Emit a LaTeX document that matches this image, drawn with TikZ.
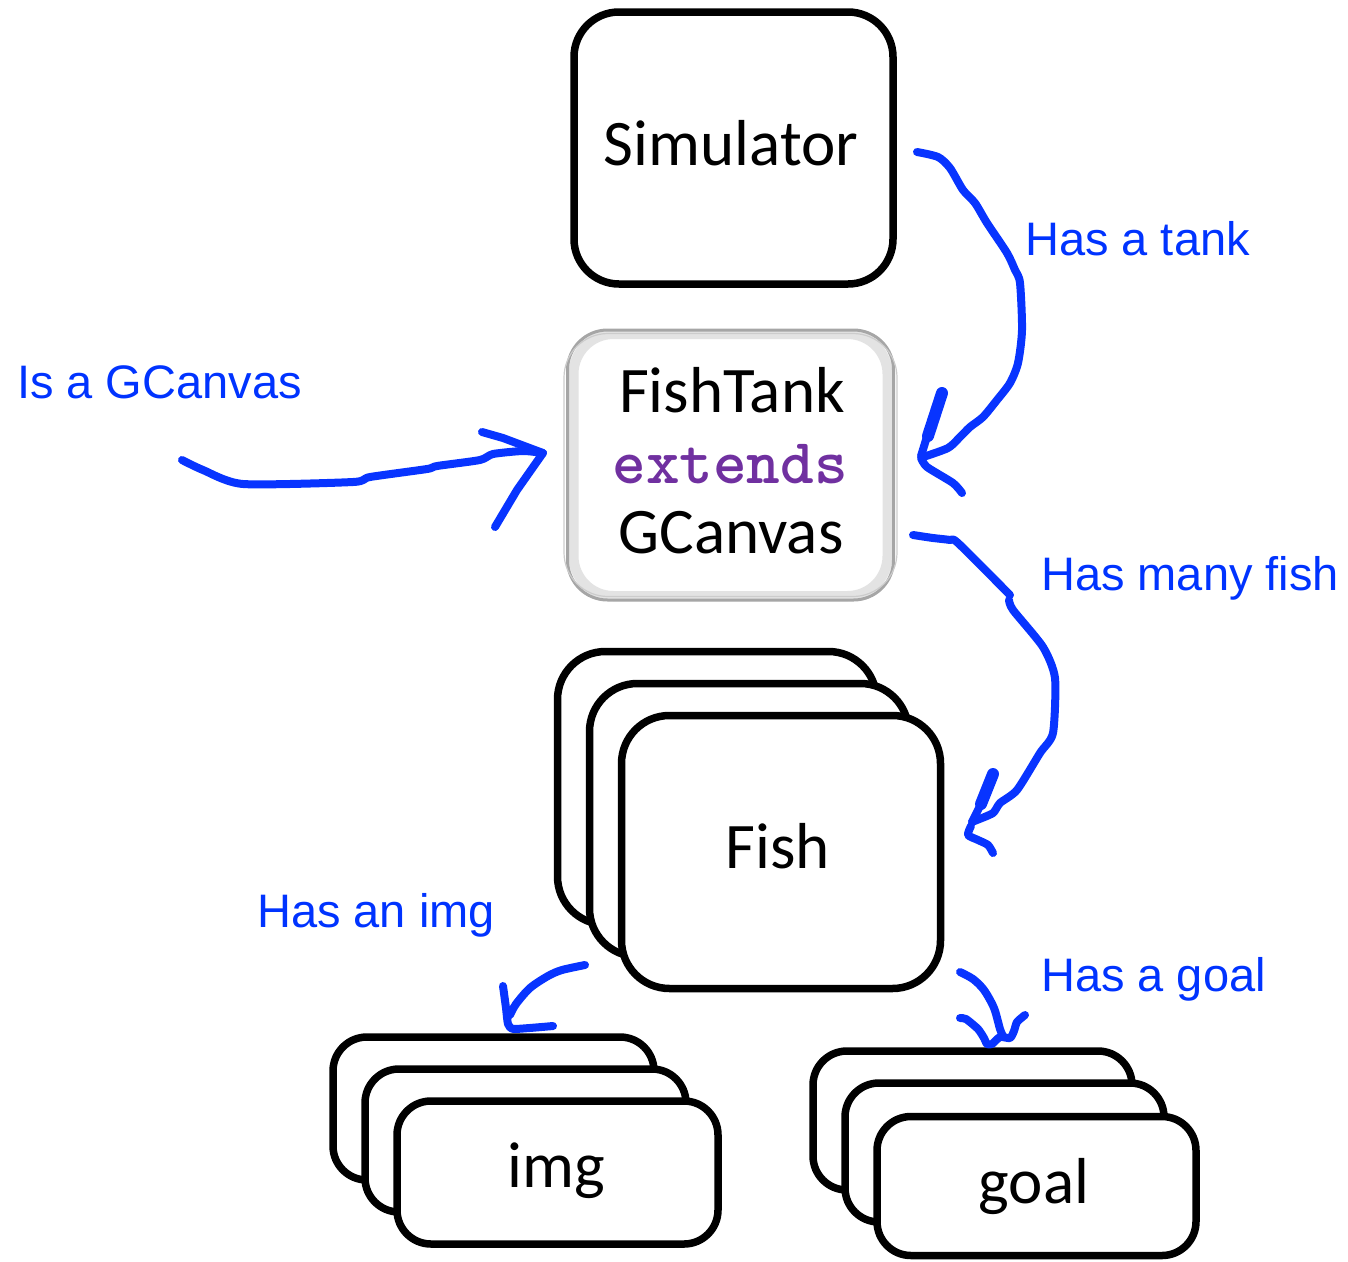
\documentclass[tikz,border=0pt]{standalone}
\usepackage{fontspec}
\newfontfamily\calfont{Carlito}
\newfontfamily\arialfont{Liberation Sans}
\definecolor{penblue}{RGB}{8,52,255}
\definecolor{lblue}{RGB}{0,51,255}
\definecolor{kwpurple}{RGB}{112,48,160}
\begin{document}
\begin{tikzpicture}[x=1pt,y=-1pt,
  box/.style={draw=black, line width=7.5pt, rounded corners=#1, fill=white, inner sep=0pt},
  boxtext/.style={font={\calfont\fontsize{65pt}{70pt}\selectfont}, anchor=base, inner sep=0pt},
  codetext/.style={font={\ttfamily\fontsize{64pt}{68pt}\selectfont}, text=kwpurple, anchor=base, inner sep=0pt},
  lbl/.style={font={\arialfont\fontsize{47pt}{50pt}\selectfont}, text=lblue, anchor=base west, inner sep=0pt},
  pen/.style={draw=penblue, line width=8pt, line cap=round, line join=round},
  penthick/.style={draw=penblue, line width=12pt, line cap=round, line join=round}]
\useasboundingbox (0,0) rectangle (1348,1261);

% Simulator
\node[box=45pt, minimum width=319pt, minimum height=272pt] (sim) at (733.5,148) {};
\node[boxtext] (simtxt) at (731,165) {Simulator};

% FishTank
\node[draw=gray!22, line width=10pt, rounded corners=40pt, fill=white, inner sep=0pt,
      minimum width=314pt, minimum height=262pt] (ft) at (730.5,465) {};
\draw[gray!70, line width=3pt, rounded corners=40pt] ([shift={(-1,1)}]ft.north west) rectangle ([shift={(1,-1)}]ft.south east);
\draw[gray!40, line width=1.2pt, rounded corners=44pt] ([shift={(-4.5,4.5)}]ft.north west) rectangle ([shift={(4.5,-4.5)}]ft.south east);
\node[boxtext] (fttxt1) at (732,412) {FishTank};
\node[codetext] (fttxt2) at (730,483) {\textbf{extends}};
\node[boxtext] (fttxt3) at (731,553) {GCanvas};

% Fish stack
\node[box=48pt, minimum width=319pt, minimum height=273pt] (fish3) at (717,788) {};
\node[box=48pt, minimum width=319pt, minimum height=273pt] (fish2) at (749,820) {};
\node[box=48pt, minimum width=319pt, minimum height=273pt] (fish1) at (781,852) {};
\node[boxtext] (fishtxt) at (778,868) {Fish};

% img stack
\node[box=34pt, minimum width=321pt, minimum height=143pt] (img3) at (493.5,1108.5) {};
\node[box=34pt, minimum width=321pt, minimum height=143pt] (img2) at (525.5,1140.5) {};
\node[box=34pt, minimum width=321pt, minimum height=143pt] (img1) at (557.5,1172.5) {};
\node[boxtext] (imgtxt) at (556,1187) {img};

% goal stack
\node[box=34pt, minimum width=319pt, minimum height=139pt] (goal3) at (972.5,1120.5) {};
\node[box=34pt, minimum width=319pt, minimum height=139pt] (goal2) at (1004.5,1152.5) {};
\node[box=34pt, minimum width=319pt, minimum height=139pt] (goal1) at (1036.5,1186) {};
\node[boxtext] (goaltxt) at (1034,1203) {goal};

% labels
\node[lbl] (l1) at (17,398) {Is a GCanvas};
\node[lbl] (l2) at (1025,255) {Has a tank};
\node[lbl] (l3) at (1041,590) {Has many fish};
\node[lbl] (l4) at (257,927) {Has an img};
\node[lbl] (l5) at (1041,991) {Has a goal};

% Has a tank arrow
\draw[pen] plot[smooth, tension=0.45] coordinates {(917,152) (938,157) (950,168) (963,190) (975,203) (987,223) (1007,253) (1015,270) (1020,283) (1022,330) (1018,363) (1010,383) (997,400) (983,417) (970,427) (960,437) (948,448) (923,457)};
\draw[penthick] (942,393) -- (928,436);
\draw[pen] (929,430) -- (921,456);
\draw[pen] plot[smooth, tension=0.4] coordinates {(921,458) (927,467) (953,483) (962,493)};

% Is a GCanvas arrow
\draw[pen] plot[smooth, tension=0.4] coordinates {(182,460) (203,470) (243,484) (353,482) (370,477) (427,469) (437,466) (480,460) (493,454) (523,451) (543,453)};
\draw[pen] (482,432) -- (503,438) -- (543,453) -- (517,490) -- (495,527);

% Has many fish arrow
\draw[pen] plot[smooth, tension=0.4] coordinates {(913,535) (933,538) (950,540) (958,543) (1010,595)};
\draw[pen] plot[smooth, tension=0.4] coordinates {(1009,600) (1013,610) (1043,647) (1055,678) (1053,733) (1040,753) (1017,790) (1000,803) (993,813) (977,820) (972,822)};
\draw[penthick] (993,774) -- (981,804);
\draw[pen] (983,800) -- (972,822);
\draw[pen] plot[smooth, tension=0.4] coordinates {(971,826) (968,835) (978,840) (988,845) (993,853)};

% Has an img arrow
\draw[pen] plot[smooth, tension=0.5] coordinates {(585,965) (562,970) (548,976) (530,988) (516,1004) (510,1015)};
\draw[pen] plot[smooth, tension=0.3] coordinates {(503,986) (506,1008) (508,1024) (514,1029) (553,1026)};

% Has a goal arrow
\draw[pen] plot[smooth, tension=0.5] coordinates {(960,972) (973,979) (984,990) (994,1008) (1000,1029) (1003,1036)};
\draw[pen] plot[smooth, tension=0.4] coordinates {(960,1018) (966,1019) (978,1029) (984,1038) (987,1044) (992,1044) (1000,1037) (1010,1038) (1014,1031) (1017,1022) (1025,1015)};
\end{tikzpicture}
\end{document}
